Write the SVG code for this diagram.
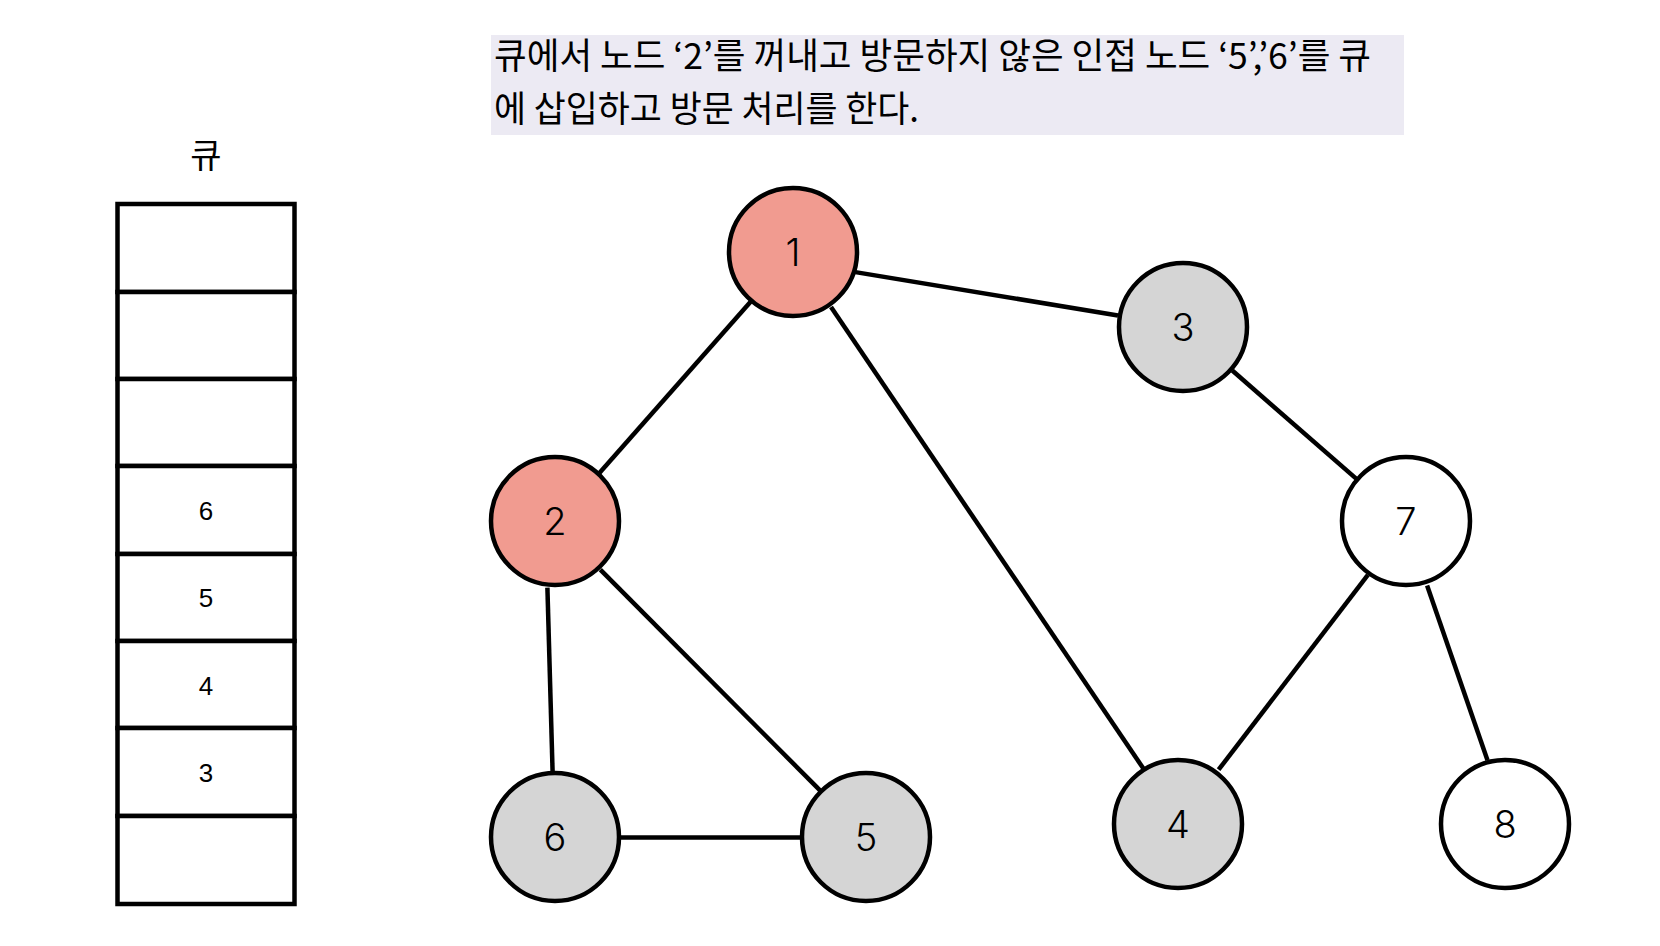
<svg xmlns="http://www.w3.org/2000/svg" width="1660" height="946" viewBox="0 0 1660 946">
<style>
.edge{stroke:#000;stroke-width:4.5;fill:none}
.node{stroke:#000;stroke-width:4.5}
.lbl{font-family:Inter,"Noto Sans",sans-serif;font-weight:300;font-size:38px;fill:#000;text-anchor:middle;dominant-baseline:central}
.cell{fill:#fff;stroke:#000;stroke-width:4.5}
.qn{font-family:"Liberation Sans",Arial,sans-serif;font-size:26px;fill:#000;text-anchor:middle;dominant-baseline:central}
.cap{font-family:"Noto Sans CJK KR",sans-serif;font-size:36px;fill:#000}
</style>
<rect width="1660" height="946" fill="#fff"/>
<g id="caption">
<rect x="491" y="35" width="913" height="100" fill="#ECEAF3"/>
<text class="cap" x="494" y="69" textLength="877" lengthAdjust="spacingAndGlyphs">큐에서 노드 ‘2’를 꺼내고 방문하지 않은 인접 노드 ‘5’,’6’를 큐</text>
<text class="cap" x="494" y="122" textLength="425" lengthAdjust="spacingAndGlyphs">에 삽입하고 방문 처리를 한다.</text>
</g>
<g id="queue">
<text x="206" y="153" font-family="Noto Sans CJK KR,sans-serif" font-size="34" text-anchor="middle" dominant-baseline="central">큐</text>
<rect class="cell" x="117.5" y="204" width="177" height="88"/>
<rect class="cell" x="117.5" y="292" width="177" height="87"/>
<rect class="cell" x="117.5" y="379" width="177" height="87"/>
<rect class="cell" x="117.5" y="466" width="177" height="88"/>
<rect class="cell" x="117.5" y="554" width="177" height="87"/>
<rect class="cell" x="117.5" y="641" width="177" height="87"/>
<rect class="cell" x="117.5" y="728" width="177" height="88"/>
<rect class="cell" x="117.5" y="816" width="177" height="88"/>
<text class="qn" x="206" y="511">6</text>
<text class="qn" x="206" y="598">5</text>
<text class="qn" x="206" y="686">4</text>
<text class="qn" x="206" y="773">3</text>
</g>
<g id="edges">
<line class="edge" x1="855.4" y1="272.1" x2="1118" y2="315.5"/>
<line class="edge" x1="750.6" y1="301.7" x2="599.2" y2="473.2"/>
<line class="edge" x1="831" y1="307" x2="1143.4" y2="768.6"/>
<line class="edge" x1="1232.3" y1="370.5" x2="1357.3" y2="479.6"/>
<line class="edge" x1="1367.9" y1="574.9" x2="1218.6" y2="769.7"/>
<line class="edge" x1="1427.1" y1="585.5" x2="1487.5" y2="760.2"/>
<line class="edge" x1="547.4" y1="587.6" x2="552.6" y2="771.8"/>
<line class="edge" x1="600.3" y1="569.6" x2="820.5" y2="790.9"/>
<line class="edge" x1="620.4" y1="837.5" x2="802.5" y2="837.5"/>
</g>
<g id="node1"><circle class="node" cx="793" cy="252" r="64" fill="#F19B90"/><text class="lbl" x="793" y="252">1</text></g>
<g id="node2"><circle class="node" cx="555" cy="521" r="64" fill="#F19B90"/><text class="lbl" x="555" y="521">2</text></g>
<g id="node3"><circle class="node" cx="1183" cy="327" r="64" fill="#D5D5D5"/><text class="lbl" x="1183" y="327">3</text></g>
<g id="node7"><circle class="node" cx="1406" cy="521" r="64" fill="#fff"/><text class="lbl" x="1406" y="521">7</text></g>
<g id="node4"><circle class="node" cx="1178" cy="824" r="64" fill="#D5D5D5"/><text class="lbl" x="1178" y="824">4</text></g>
<g id="node8"><circle class="node" cx="1505" cy="824" r="64" fill="#fff"/><text class="lbl" x="1505" y="824">8</text></g>
<g id="node6"><circle class="node" cx="555" cy="837" r="64" fill="#D5D5D5"/><text class="lbl" x="555" y="837">6</text></g>
<g id="node5"><circle class="node" cx="866" cy="837" r="64" fill="#D5D5D5"/><text class="lbl" x="866" y="837">5</text></g>
</svg>
